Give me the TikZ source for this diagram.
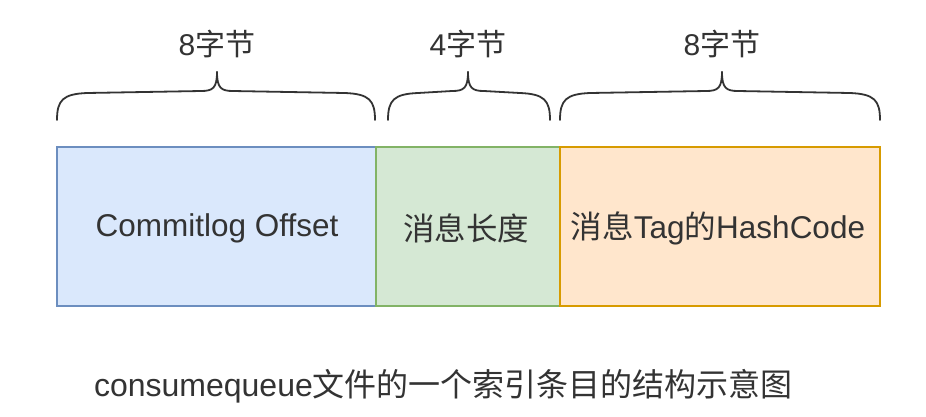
\documentclass[tikz,border=0pt]{standalone}
\usepackage{fontspec}
\setmainfont{Liberation Sans}
\newfontfamily\cjk{Noto Sans CJK SC}
\definecolor{txt}{HTML}{333333}
\definecolor{bluefill}{HTML}{DAE8FC}
\definecolor{bluedraw}{HTML}{6C8EBF}
\definecolor{greenfill}{HTML}{D5E8D4}
\definecolor{greendraw}{HTML}{82B366}
\definecolor{orangefill}{HTML}{FFE6CC}
\definecolor{orangedraw}{HTML}{D79B00}
\begin{document}
\begin{tikzpicture}[x=1pt,y=-1pt,
  field/.style={rectangle, anchor=north west, minimum height=159pt, inner sep=0pt, outer sep=0pt, line width=1.6pt},
  fieldtext/.style={text=txt, inner sep=0pt, font=\fontsize{31.5}{36}\selectfont},
  lbl/.style={text=txt, inner sep=0pt, font=\fontsize{30}{34}\selectfont},
  bracestyle/.style={draw=txt, line width=1.8pt, line cap=round, line join=round}]
\useasboundingbox (0,0) rectangle (926,416);
\fill[white] (0,0) rectangle (926,416);
\node[field, fill=bluefill, draw=bluedraw, minimum width=319pt] (b1) at (57,147) {};
\node[field, fill=greenfill, draw=greendraw, minimum width=184pt] (b2) at (376,147) {};
\node[field, fill=orangefill, draw=orangedraw, minimum width=320pt] (b3) at (560,147) {};
\node[fieldtext] (t1) at (217,228) {Commitlog Offset};
\node[fieldtext] (t2) at (466,228) {\cjk 消息长度};
\node[fieldtext] (t3) at (718,228) {{\cjk 消息}Tag{\cjk 的}HashCode};
\node[lbl] (l1) at (217,44) {8{\cjk 字节}};
\node[lbl] (l2) at (468,44) {4{\cjk 字节}};
\node[lbl] (l3) at (722,44) {8{\cjk 字节}};
\node[text=txt, inner sep=0pt, font=\fontsize{32}{36}\selectfont] (cap) at (443.5,386) {consumequeue{\cjk 文件的一个索引条目的结构示意图}};
% braces
\foreach \a/\m/\b in {57/217/375, 388/468/550, 560/722/880}{
  \draw[bracestyle] (\a,120) .. controls (\a,100) and (\a+6,94) .. (\a+30,93)
    -- (\m-16,91) .. controls (\m-4,91) and (\m,88) .. (\m,72);
  \draw[bracestyle] (\b,120) .. controls (\b,100) and (\b-6,94) .. (\b-30,93)
    -- (\m+16,91) .. controls (\m+4,91) and (\m,88) .. (\m,72);
}
\end{tikzpicture}
\end{document}
